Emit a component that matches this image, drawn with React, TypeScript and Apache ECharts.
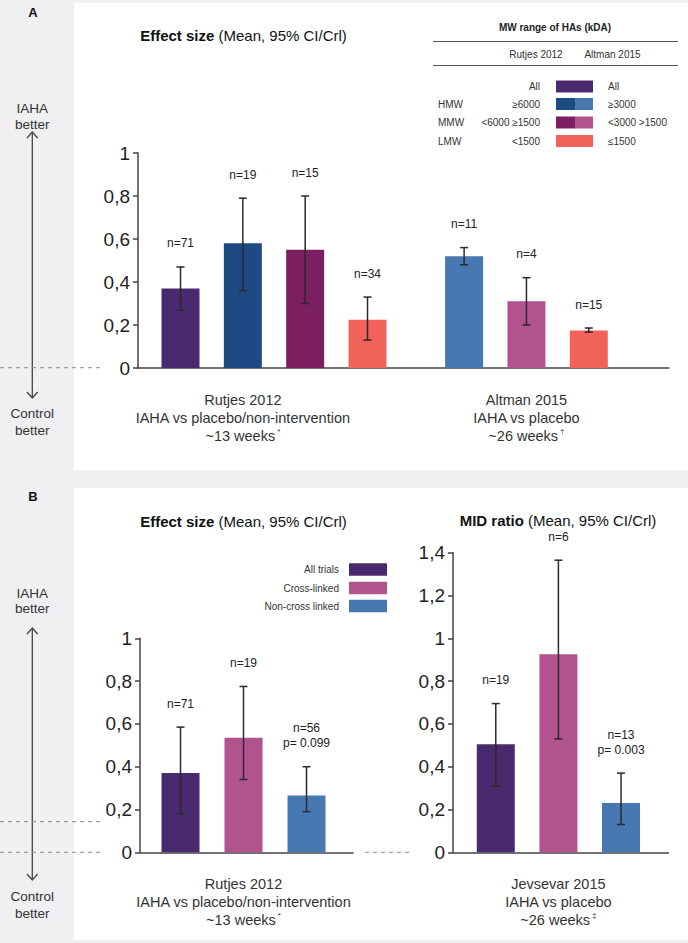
import React, { useEffect, useRef } from "react";
import * as echarts from "echarts";

// ---------- DATA ----------
const effectTicks = [0, 0.2, 0.4, 0.6, 0.8, 1];
const midTicks = [0, 0.2, 0.4, 0.6, 0.8, 1, 1.2, 1.4];

// Panel A – Rutjes 2012 (by MW)
const rutjesGroups = ["All", "HMW", "MMW", "LMW"];
const rutjesMean = [0.37, 0.58, 0.55, 0.225];
const rutjesLow = [0.27, 0.36, 0.3, 0.13];
const rutjesHigh = [0.47, 0.79, 0.8, 0.33];
const rutjesN = [71, 19, 15, 34];

// Panel A – Altman 2015 (by MW)
const altmanGroups = ["HMW", "MMW", "LMW"];
const altmanMean = [0.52, 0.31, 0.175];
const altmanLow = [0.48, 0.2, 0.167];
const altmanHigh = [0.56, 0.42, 0.186];
const altmanN = [11, 4, 15];

// Panel B – cross-linking
const crossGroups = ["All trials", "Cross-linked", "Non-cross linked"];
const rutjesCrossMean = [0.37, 0.535, 0.265];
const rutjesCrossLow = [0.18, 0.34, 0.19];
const rutjesCrossHigh = [0.585, 0.775, 0.4];
const rutjesCrossN = [71, 19, 56];
const rutjesCrossP = ["", "", "0.099"];

const jevsevarMean = [0.505, 0.925, 0.23];
const jevsevarLow = [0.31, 0.53, 0.13];
const jevsevarHigh = [0.695, 1.365, 0.37];
const jevsevarN = [19, 6, 13];
const jevsevarP = ["", "", "0.003"];

// ---------- STYLE / LAYOUT ----------
const FONT = "'Liberation Sans', Arial, Helvetica, sans-serif";
const C_ALL = "#4a2a6e";
const C_HMW_R = "#1d4a82";
const C_MMW_R = "#7b1f60";
const C_LMW = "#f0625a";
const C_HMW_A = "#4878b2";
const C_MMW_A = "#b0538e";
const rutjesColors = [C_ALL, C_HMW_R, C_MMW_R, C_LMW];
const altmanColors = [C_HMW_A, C_MMW_A, C_LMW];
const crossColors = [C_ALL, C_MMW_A, C_HMW_A];

const ALTMAN_SHIFT = 4.55;
const BAR_W = 38;
const LABEL_GAP = 16;
const AXIS_COLOR = "#444";

const rutjesLabel = "Rutjes 2012\nIAHA vs placebo/non-intervention\n~13 weeks{sup|*}";
const altmanLabel = "Altman 2015\nIAHA vs placebo\n~26 weeks{sup|†}";
const jevsevarLabel = "Jevsevar 2015\nIAHA vs placebo\n~26 weeks{sup|‡}";

const yFmt = (v: number) => (Math.round(v * 10) / 10).toString().replace(".", ",");

function yAxis(gridIndex: number, ticks: number[]) {
  return {
    type: "value",
    gridIndex,
    min: ticks[0],
    max: ticks[ticks.length - 1],
    interval: ticks[1] - ticks[0],
    axisLine: { show: true, lineStyle: { color: AXIS_COLOR, width: 1.5 } },
    axisTick: { show: true, length: 5, lineStyle: { color: AXIS_COLOR, width: 1.5 } },
    splitLine: { show: false },
    axisLabel: { margin: 8, fontSize: 19, color: "#222", fontFamily: FONT, formatter: yFmt },
  };
}

function xAxis(gridIndex: number, min: number, max: number, labelValues: number[], labels: string[]) {
  return {
    type: "value",
    gridIndex,
    min,
    max,
    axisLine: { show: true, onZero: false, lineStyle: { color: AXIS_COLOR, width: 1.5 } },
    axisTick: { show: false },
    splitLine: { show: false },
    axisLabel: {
      customValues: labelValues,
      margin: 23,
      fontSize: 14.5,
      lineHeight: 18,
      color: "#333",
      fontFamily: FONT,
      formatter: (v: number) => {
        let best = 0;
        labelValues.forEach((lv, i) => {
          if (Math.abs(lv - v) < Math.abs(labelValues[best] - v)) best = i;
        });
        return labels[best];
      },
      rich: {
        sup: { fontSize: 8, verticalAlign: "top", lineHeight: 18, color: "#333", fontFamily: FONT, padding: [0, 0, 0, 2] },
      },
    },
  };
}

function barSeries(gridIndex: number, xs: number[], means: number[], colors: string[]) {
  return {
    type: "bar",
    xAxisIndex: gridIndex,
    yAxisIndex: gridIndex,
    barWidth: BAR_W,
    z: 2,
    data: means.map((v, i) => ({ value: [xs[i], v], itemStyle: { color: colors[i] } })),
  };
}

function errSeries(gridIndex: number, xs: number[], low: number[], high: number[], labels: string[]) {
  return {
    type: "custom",
    xAxisIndex: gridIndex,
    yAxisIndex: gridIndex,
    clip: false,
    z: 3,
    encode: { x: 0, y: [1, 2] },
    data: low.map((l, i) => [xs[i], l, high[i]]),
    renderItem: (params: any, api: any) => {
      const x = api.value(0);
      const pLo = api.coord([x, api.value(1)]);
      const pHi = api.coord([x, api.value(2)]);
      const cap = 4;
      const st = { stroke: "#2a2a2a", lineWidth: 1.5 };
      return {
        type: "group",
        children: [
          { type: "line", shape: { x1: pLo[0], y1: pLo[1], x2: pHi[0], y2: pHi[1] }, style: st },
          { type: "line", shape: { x1: pLo[0] - cap, y1: pLo[1], x2: pLo[0] + cap, y2: pLo[1] }, style: st },
          { type: "line", shape: { x1: pHi[0] - cap, y1: pHi[1], x2: pHi[0] + cap, y2: pHi[1] }, style: st },
          {
            type: "text",
            x: pHi[0],
            y: pHi[1] - LABEL_GAP,
            style: {
              text: labels[params.dataIndex],
              align: "center",
              verticalAlign: "bottom",
              fill: "#222",
              fontSize: 12,
              lineHeight: 15,
              fontFamily: FONT,
            },
          },
        ],
      };
    },
  };
}

const nLabel = (n: number[], p?: string[]) => n.map((v, i) => (p && p[i] ? `n=${v}\np= ${p[i]}` : `n=${v}`));

function txt(x: number, y: number, text: string, o: any = {}) {
  return {
    type: "text",
    x,
    y,
    silent: true,
    style: {
      text,
      fontFamily: FONT,
      fontSize: o.size ?? 10,
      fontWeight: o.weight ?? "normal",
      fill: o.color ?? "#333",
      align: o.align ?? "center",
      verticalAlign: "middle",
      lineHeight: o.lineHeight,
      rich: o.rich,
    },
  };
}
function ln(x1: number, y1: number, x2: number, y2: number, o: any = {}) {
  return {
    type: "line",
    silent: true,
    shape: { x1, y1, x2, y2 },
    style: { stroke: o.color ?? "#555", lineWidth: o.width ?? 1, lineDash: o.dash },
  };
}
function rect(x: number, y: number, w: number, h: number, color: string) {
  return { type: "rect", silent: true, shape: { x, y, width: w, height: h }, style: { fill: color } };
}
function arrow(x: number, y1: number, y2: number) {
  const st = { stroke: "#444", lineWidth: 1.3, fill: "none" };
  return [
    { type: "line", silent: true, shape: { x1: x, y1, x2: x, y2 }, style: st },
    { type: "polyline", silent: true, shape: { points: [[x - 5.3, y1 + 6], [x, y1], [x + 5.3, y1 + 6]] }, style: st },
    { type: "polyline", silent: true, shape: { points: [[x - 5.3, y2 - 6], [x, y2], [x + 5.3, y2 - 6]] }, style: st },
  ];
}

const titleRich = { b: { fontWeight: "bold", fontSize: 15, fontFamily: FONT, fill: "#111", color: "#111" } };

function buildOption() {
  const xsR = rutjesMean.map((_, i) => i + 1);
  const xsA = altmanMean.map((_, i) => i + 1 + ALTMAN_SHIFT);
  const xs3 = [1, 2, 3];

  // MW legend rows
  const mwRows = [
    { cls: "", r: "All", a: "All", c1: C_ALL, c2: C_ALL },
    { cls: "HMW", r: "≥6000", a: "≥3000", c1: C_HMW_R, c2: C_HMW_A },
    { cls: "MMW", r: "<6000 ≥1500", a: "<3000 >1500", c1: C_MMW_R, c2: C_MMW_A },
    { cls: "LMW", r: "<1500", a: "≤1500", c1: C_LMW, c2: C_LMW },
  ];
  const rowY = [86.5, 104, 122.5, 141];
  const legendA: any[] = [
    txt(555, 27, "MW range of HAs (kDA)", { weight: "bold", color: "#222" }),
    ln(433, 41.5, 678, 41.5, { color: "#555" }),
    txt(536, 54, "Rutjes 2012"),
    txt(612.5, 54, "Altman 2015"),
    ln(433, 65.5, 678, 65.5, { color: "#555" }),
  ];
  mwRows.forEach((row, i) => {
    const y = rowY[i];
    if (row.cls) legendA.push(txt(438, y, row.cls, { align: "left" }));
    legendA.push(txt(540, y, row.r, { align: "right" }));
    legendA.push(rect(556, y - 6, 19, 12, row.c1));
    legendA.push(rect(575, y - 6, 18, 12, row.c2));
    legendA.push(txt(608, y, row.a, { align: "left" }));
  });

  const legendBY = [569.5, 588, 606];
  const legendB: any[] = [];
  crossGroups.forEach((g, i) => {
    legendB.push(txt(339, legendBY[i], g, { align: "right" }));
    legendB.push(rect(349, legendBY[i] - 6.3, 38, 12.6, crossColors[i]));
  });

  const dash = { color: "#8a8a8a", width: 1, dash: [4, 4] };
  const side: any[] = [
    txt(33, 12.7, "A", { size: 13, weight: "bold", color: "#111" }),
    txt(33, 496, "B", { size: 13, weight: "bold", color: "#111" }),
    txt(32.3, 108.3, "IAHA", { size: 13.5, color: "#333" }),
    txt(32.3, 124.5, "better", { size: 13.5, color: "#333" }),
    txt(32.3, 413.3, "Control", { size: 13.5, color: "#333" }),
    txt(32.3, 430, "better", { size: 13.5, color: "#333" }),
    ...arrow(32.3, 132, 398),
    ln(0, 367.7, 100, 367.7, dash),
    txt(32.3, 593, "IAHA", { size: 13.5, color: "#333" }),
    txt(32.3, 608, "better", { size: 13.5, color: "#333" }),
    txt(32.3, 896.7, "Control", { size: 13.5, color: "#333" }),
    txt(32.3, 913, "better", { size: 13.5, color: "#333" }),
    ...arrow(32.3, 628, 880),
    ln(0, 821.7, 100, 821.7, dash),
    ln(0, 852.3, 100, 852.3, dash),
    ln(365, 852.3, 413, 852.3, dash),
  ];

  const titles: any[] = [
    txt(243.5, 35, "{b|Effect size} (Mean, 95% CI/Crl)", { size: 15, color: "#111", rich: titleRich }),
    txt(243.5, 521.7, "{b|Effect size} (Mean, 95% CI/Crl)", { size: 15, color: "#111", rich: titleRich }),
    txt(558, 520, "{b|MID ratio} (Mean, 95% CI/Crl)", { size: 15, color: "#111", rich: titleRich }),
  ];

  return {
    animation: false,
    backgroundColor: "transparent",
    textStyle: { fontFamily: FONT },
    grid: [
      { left: 138, right: 19, top: 153, height: 215 },
      { left: 140, width: 213, top: 638.3, height: 214 },
      { left: 453, width: 215.5, top: 552.7, height: 299.6 },
    ],
    xAxis: [
      xAxis(0, 0.318, 8.837, [2, 2 + ALTMAN_SHIFT], [rutjesLabel, altmanLabel]),
      xAxis(1, 0.357, 3.738, [2], [rutjesLabel]),
      xAxis(2, 0.317, 3.758, [2], [jevsevarLabel]),
    ],
    yAxis: [yAxis(0, effectTicks), yAxis(1, effectTicks), yAxis(2, midTicks)],
    series: [
      barSeries(0, [...xsR, ...xsA], [...rutjesMean, ...altmanMean], [...rutjesColors, ...altmanColors]),
      errSeries(0, [...xsR, ...xsA], [...rutjesLow, ...altmanLow], [...rutjesHigh, ...altmanHigh], [
        ...nLabel(rutjesN),
        ...nLabel(altmanN),
      ]),
      barSeries(1, xs3, rutjesCrossMean, crossColors),
      errSeries(1, xs3, rutjesCrossLow, rutjesCrossHigh, nLabel(rutjesCrossN, rutjesCrossP)),
      barSeries(2, xs3, jevsevarMean, crossColors),
      errSeries(2, xs3, jevsevarLow, jevsevarHigh, nLabel(jevsevarN, jevsevarP)),
    ],
    graphic: [...side, ...legendA, ...legendB, ...titles],
  };
}

export default function App() {
  const ref = useRef<HTMLDivElement>(null);
  useEffect(() => {
    const chart = echarts.init(ref.current!, null, { renderer: "svg", width: 688, height: 943 });
    chart.setOption(buildOption() as any);
    return () => chart.dispose();
  }, []);
  return (
    <div style={{ position: "absolute", left: 0, top: 0, width: 688, height: 943, background: "#f0f0f2" }}>
      <div style={{ position: "absolute", left: 74, top: 3, width: 614, height: 467, background: "#fff" }} />
      <div style={{ position: "absolute", left: 74, top: 488, width: 614, height: 452, background: "#fff" }} />
      <div ref={ref} style={{ position: "absolute", left: 0, top: 0, width: 688, height: 943 }} />
    </div>
  );
}
